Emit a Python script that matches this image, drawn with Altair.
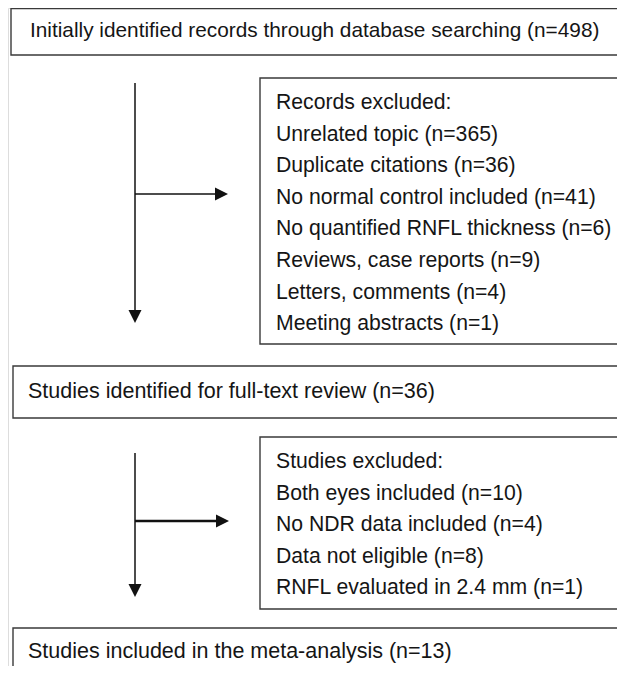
import altair as alt
import pandas as pd

# ---- content (data) ----
stage_labels = [
    "Initially identified records through database searching",
    "Studies identified for full-text review",
    "Studies included in the meta-analysis",
]
stage_counts = [498, 36, 13]

records_title = "Records excluded:"
records_reasons = [
    "Unrelated topic",
    "Duplicate citations",
    "No normal control included",
    "No quantified RNFL thickness",
    "Reviews, case reports",
    "Letters, comments",
    "Meeting abstracts",
]
records_counts = [365, 36, 41, 6, 9, 4, 1]

studies_title = "Studies excluded:"
studies_reasons = [
    "Both eyes included",
    "No NDR data included",
    "Data not eligible",
    "RNFL evaluated in 2.4 mm",
]
studies_counts = [10, 4, 8, 1]

# ---- layout (pixel-space positions of the diagram) ----
W, H = 625, 674
M = 8
PW, PH = W - 2 * M, H - 2 * M
stage_box = [(11, 8.5, 55), (13, 366, 418), (13, 628, 720)]   # x, y_top, y_bottom
stage_text = [(30, 31), (28, 392), (28, 652)]
stage_fs = [20.8, 21.5, 21.5]
excl_box = [(260, 78, 344), (260, 437, 609)]
excl_text_x = 276
excl_first_y = [103, 462]
excl_fs = 21.2
line_gap = 31.6
arrow_x = 135
arrows = [  # y_start, y_tip, y_branch, x_tip
    (83, 323, 194, 228),
    (453, 597, 521, 229),
]
head_r = 6.5

stroke = "#3a3a3a"
font = "Liberation Sans"

boxes = []
for (x, y1, y2) in stage_box:
    boxes.append({"x": x, "x2": W + 60, "y": y1, "y2": y2})
for (x, y1, y2) in excl_box:
    boxes.append({"x": x, "x2": W + 60, "y": y1, "y2": y2})
boxes = pd.DataFrame(boxes)

texts = []
for (lab, n), (tx, ty), fs in zip(zip(stage_labels, stage_counts), stage_text, stage_fs):
    texts.append({"x": tx, "y": ty, "t": f"{lab} (n={n})", "fs": fs})
for title, reasons, counts, y0 in [
    (records_title, records_reasons, records_counts, excl_first_y[0]),
    (studies_title, studies_reasons, studies_counts, excl_first_y[1]),
]:
    lines = [title] + [f"{r} (n={c})" for r, c in zip(reasons, counts)]
    for i, ln in enumerate(lines):
        texts.append({"x": excl_text_x, "y": y0 + i * line_gap, "t": ln, "fs": excl_fs})
texts = pd.DataFrame(texts)

vlines, hlines, down_heads, right_heads = [], [], [], []
for (ys, yt, yb, xt) in arrows:
    vlines.append({"x": arrow_x, "y": ys, "y2": yt - 2 * head_r + 1})
    hlines.append({"x": arrow_x, "x2": xt - 2 * head_r + 1, "y": yb})
    down_heads.append({"x": arrow_x, "y": yt - head_r})
    right_heads.append({"x": xt - head_r, "y": yb})
vlines = pd.DataFrame(vlines)
hlines = pd.DataFrame(hlines)
down_heads = pd.DataFrame(down_heads)
right_heads = pd.DataFrame(right_heads)

xs = alt.Scale(domain=[M, M + PW], nice=False, zero=False)
ys = alt.Scale(domain=[M, M + PH], nice=False, zero=False, reverse=True)
X = lambda f: alt.X(f, type="quantitative", scale=xs, axis=None)
Y = lambda f: alt.Y(f, type="quantitative", scale=ys, axis=None)

rects = alt.Chart(boxes).mark_rect(
    fill="white", stroke=stroke, strokeWidth=1.4, clip=True
).encode(x=X("x"), x2="x2", y=Y("y"), y2="y2")

txt = alt.Chart(texts).mark_text(
    align="left", baseline="middle", font=font, color="#151515"
).encode(
    x=X("x"), y=Y("y"), text="t:N",
    size=alt.Size("fs:Q", scale=None, legend=None),
)

v = alt.Chart(vlines).mark_rule(color="#111", strokeWidth=1.5).encode(
    x=X("x"), y=Y("y"), y2="y2"
)
h1 = alt.Chart(hlines.iloc[[0]]).mark_rule(color="#111", strokeWidth=1.5).encode(
    x=X("x"), x2="x2", y=Y("y")
)
h2 = alt.Chart(hlines.iloc[[1]]).mark_rule(color="#111", strokeWidth=2.4).encode(
    x=X("x"), x2="x2", y=Y("y")
)
size = (2 * head_r) ** 2
dh = alt.Chart(down_heads).mark_point(
    shape="M-1,-1L1,-1L0,1Z", filled=True, fill="#111", size=size, opacity=1, strokeWidth=0
).encode(x=X("x"), y=Y("y"))
rh = alt.Chart(right_heads).mark_point(
    shape="M-1,-1L1,0L-1,1Z", filled=True, fill="#111", size=size, opacity=1, strokeWidth=0
).encode(x=X("x"), y=Y("y"))

chart = (
    alt.layer(rects, v, h1, h2, dh, rh, txt)
    .properties(width=PW, height=PH, padding=0, autosize=alt.AutoSizeParams(type="none"))
    .configure_view(stroke=None)
    .configure(background="white")
)

chart.save("out.html", embed_options={"renderer": "svg", "actions": False})
